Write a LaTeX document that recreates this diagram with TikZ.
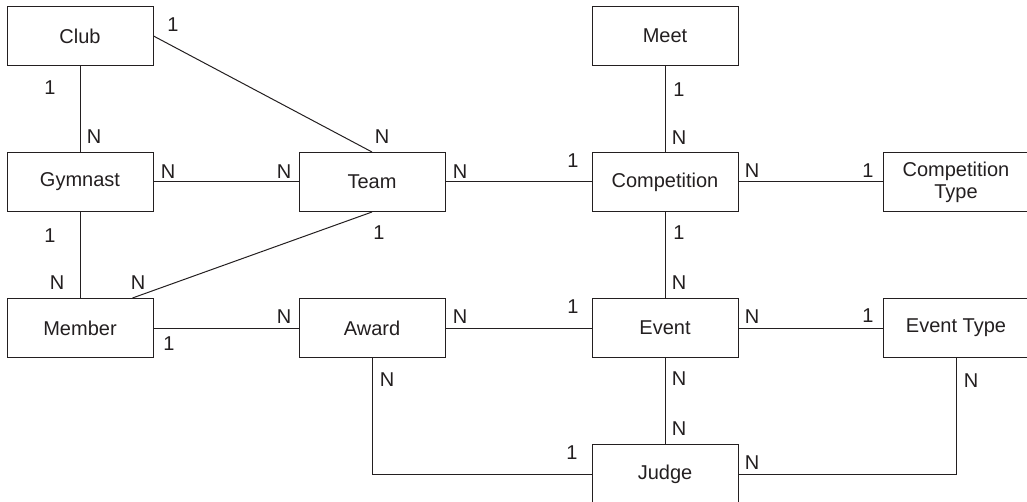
\documentclass[tikz,border=0pt]{standalone}
\usepackage{fontspec}
\setmainfont{Liberation Sans}
\usepackage{xcolor}
\definecolor{inkgray}{RGB}{35, 31, 32}

\tikzset{
  entity/.style={draw=inkgray, line width=1pt, minimum width=146pt, minimum height=59pt,
    inner sep=0pt, align=center, text=inkgray, font=\fontsize{20}{22}\selectfont},
  link/.style={draw=inkgray, line width=1pt},
  card/.style={inner sep=0pt, text=inkgray, font=\fontsize{20}{22}\selectfont}
}

\begin{document}
\begin{tikzpicture}[x=1pt, y=-1pt]
\useasboundingbox (0,0) rectangle (1027,502);
% Entities
\foreach \name/\x/\y/\title in {club/80/36/Club, meet/665/36/Meet,
    gymnast/80/182/Gymnast, team/372/182/Team, competition/665/182/Competition,
    comptype/956/182/Competition\\Type, member/80/328/Member, award/372/328/Award,
    event/665/328/Event, eventtype/956/328/Event Type, judge/665/474/Judge} {
    \node[entity] (\name) at (\x,\y) {\title};
}
% Relationships
\draw[link] (club) -- (gymnast);
\draw[link] (club.east) -- (team.north);
\draw[link] (gymnast) -- (team);
\draw[link] (gymnast) -- (member);
\draw[link] (team.south) -- ([xshift=-21pt]member.north east);
\draw[link] (member) -- (award);
\draw[link] (team) -- (competition);
\draw[link] (meet) -- (competition);
\draw[link] (competition) -- (comptype);
\draw[link] (competition) -- (event);
\draw[link] (award) -- (event);
\draw[link] (event) -- (eventtype);
\draw[link] (event) -- (judge);
\draw[link] (award.south) |- (judge.west);
\draw[link] (judge.east) -| (eventtype.south);
% Cardinalities
\foreach \x/\y/\c [count=\i] in {173/25/1, 50/88/1, 94/137/N, 382/137/N,
    168/172/N, 284/172/N, 50/236/1, 57/283/N, 138/283/N, 379/233/1,
    169/344/1, 284/317/N, 460/172/N, 573/161/1, 679/90/1, 679/138/N,
    752/171/N, 868/171/1, 679/233/1, 679/283/N, 460/317/N, 573/307/1,
    752/317/N, 868/316/1, 679/379/N, 679/429/N, 971/381/N, 752/463/N,
    387/380/N, 572/453/1} {
    \node[card] (card\i) at (\x,\y) {\c};
}
\end{tikzpicture}
\end{document}
